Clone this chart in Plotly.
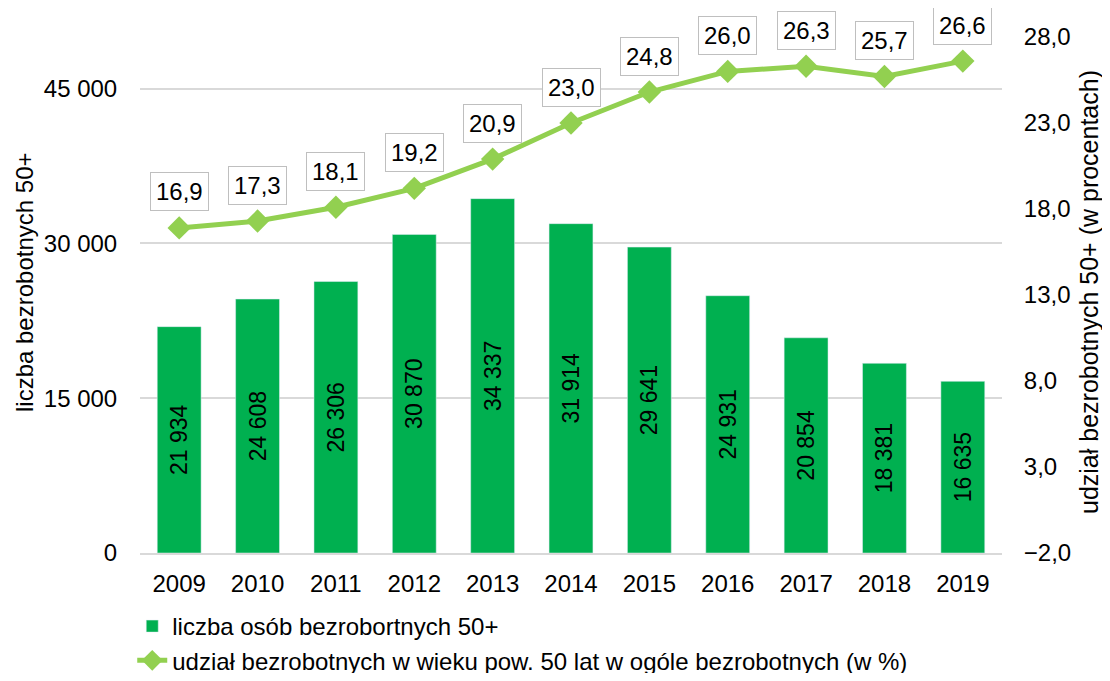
import plotly.graph_objects as go

years = ["2009", "2010", "2011", "2012", "2013", "2014", "2015", "2016", "2017", "2018", "2019"]
unemployed_50plus = [21934, 24608, 26306, 30870, 34337, 31914, 29641, 24931, 20854, 18381, 16635]
share_pct = [16.9, 17.3, 18.1, 19.2, 20.9, 23.0, 24.8, 26.0, 26.3, 25.7, 26.6]

FONT = "Arial, Liberation Sans, sans-serif"
BAR_COLOR = "#00B050"
LINE_COLOR = "#92D050"
GRID = "#D9D9D9"
FS = 24       # tick labels / data labels
FS_BAR = 23   # labels inside bars
FS_TITLE_L = 24
FS_TITLE_R = 25
FS_LEG = 24

# page has an 8px body margin on every side; size the figure so the page fits the window
OFF = 8
W, H = 1110 - 2 * OFF, 681 - 2 * OFF
L, T = 140 - OFF, 37 - OFF
R = (OFF + W) - 1002
B = (OFF + H) - 553
pw, ph = W - L - R, H - T - B

fig = go.Figure()
fig.add_trace(go.Bar(
    x=years, y=unemployed_50plus, name="liczba osób bezrobortnych 50+",
    marker=dict(color=BAR_COLOR), legendgroup="a",
    texttemplate="%{y:,d}", textposition="inside", insidetextanchor="middle",
    textangle=-90, textfont=dict(family=FONT, size=FS_BAR, color="black"),
    yaxis="y",
))
fig.add_trace(go.Scatter(
    x=years, y=share_pct, name="udział bezrobotnych w wieku pow. 50 lat w ogóle bezrobotnych (w %)",
    mode="lines+markers", legendgroup="b",
    line=dict(color=LINE_COLOR, width=5),
    marker=dict(symbol="diamond", size=18, color=LINE_COLOR),
    yaxis="y2",
))

annotations = []
for i, v in enumerate(share_pct):
    annotations.append(dict(
        x=i, y=v, xref="x", yref="y2", yshift=36,
        text=f"{v:.1f}".replace(".", ","), showarrow=False,
        font=dict(family=FONT, size=FS, color="black"),
        bgcolor="white", bordercolor="#BFBFBF", borderwidth=1, borderpad=5,
    ))


def px_to_paper(xp, yp):
    # page pixel coords -> paper coords
    return (xp - OFF - L) / pw, (OFF + H - B - yp) / ph


lx, ly = px_to_paper(24, 282)
rx, ry = px_to_paper(1089, 292)
annotations.append(dict(
    x=lx, y=ly, xref="paper", yref="paper", xanchor="center", yanchor="middle",
    text="liczba bezrobotnych 50+",
    showarrow=False, textangle=-90, font=dict(family=FONT, size=FS_TITLE_L, color="black"),
))
annotations.append(dict(
    x=rx, y=ry, xref="paper", yref="paper", xanchor="center", yanchor="middle",
    text="udział bezrobotnych 50+ (w procentach)",
    showarrow=False, textangle=-90, font=dict(family=FONT, size=FS_TITLE_R, color="black"),
))

# legend top at page y 604
leg_y = (OFF + H - B - 604) / ph

fig.update_layout(
    width=W, height=H,
    margin=dict(l=L, r=R, t=T, b=B, autoexpand=False),
    paper_bgcolor="white", plot_bgcolor="white",
    font=dict(family=FONT, size=FS, color="black"),
    separators=", ",
    bargap=0.44,
    showlegend=True,
    legend=dict(x=-0.009, y=leg_y, xanchor="left", yanchor="top", orientation="v",
                font=dict(size=FS_LEG), itemwidth=30, tracegroupgap=0, traceorder="grouped",
                bgcolor="rgba(0,0,0,0)"),
    xaxis=dict(type="category", range=[-0.5, len(years) - 0.5],
               showgrid=False, showline=True, linecolor=GRID, linewidth=1.5,
               ticks="outside", ticklen=8, tickcolor="rgba(0,0,0,0)",
               tickfont=dict(size=FS), automargin=False),
    yaxis=dict(range=[0, 50000], tick0=0, dtick=15000, tickformat=",d",
               showgrid=True, gridcolor=GRID, gridwidth=1.5, zeroline=False,
               ticks="outside", ticklen=17, tickcolor="rgba(0,0,0,0)",
               tickfont=dict(size=FS), automargin=False),
    yaxis2=dict(range=[-2, 28], tick0=-2, dtick=5, tickformat=".1f",
                overlaying="y", side="right", showgrid=False, zeroline=False,
                ticks="outside", ticklen=16, tickcolor="rgba(0,0,0,0)",
                tickfont=dict(size=FS), automargin=False),
    annotations=annotations,
)

fig.write_html("out.html")
